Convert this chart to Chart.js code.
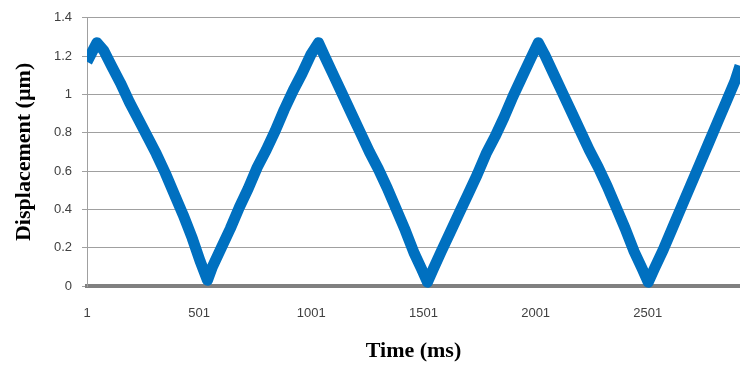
<!DOCTYPE html>
<html>
<head>
<meta charset="utf-8">
<script src="https://cdn.jsdelivr.net/npm/chart.js@4/dist/chart.umd.min.js"></script>
<style>
  html, body { margin: 0; padding: 0; background: #fff; }
  #wrap { width: 740px; height: 371px; }
</style>
</head>
<body>
<div id="wrap"><canvas id="dispChart" width="740" height="371"></canvas></div>
<script>
// sampled displacement trace (time in ms, displacement in µm)
const timeMs = [
  1, 45, 75, 110, 150, 190, 230, 270, 310, 350, 390, 430, 470, 505, 538,
  560, 600, 640, 680, 720, 760, 800, 840, 880, 920, 960, 1000, 1033,
  1060, 1100, 1140, 1180, 1220, 1260, 1300, 1340, 1380, 1420, 1460, 1492, 1519,
  1545, 1580, 1620, 1660, 1700, 1740, 1780, 1820, 1860, 1900, 1940, 1980, 2013,
  2040, 2080, 2120, 2160, 2200, 2240, 2280, 2320, 2360, 2400, 2440, 2476, 2503,
  2530, 2570, 2610, 2650, 2690, 2730, 2770, 2810, 2850, 2890, 2912
];
const displacement = [
  1.17, 1.27, 1.23, 1.15, 1.06, 0.96, 0.87, 0.78, 0.69, 0.59, 0.48, 0.37, 0.25, 0.13, 0.03,
  0.10, 0.20, 0.30, 0.41, 0.51, 0.62, 0.71, 0.81, 0.92, 1.02, 1.11, 1.21, 1.27,
  1.20, 1.10, 1.00, 0.90, 0.80, 0.70, 0.61, 0.51, 0.40, 0.29, 0.17, 0.09, 0.02,
  0.09, 0.18, 0.28, 0.38, 0.48, 0.58, 0.69, 0.78, 0.88, 0.99, 1.09, 1.19, 1.27,
  1.21, 1.11, 1.01, 0.91, 0.81, 0.71, 0.62, 0.52, 0.41, 0.30, 0.18, 0.09, 0.02,
  0.09, 0.19, 0.30, 0.41, 0.52, 0.63, 0.74, 0.85, 0.96, 1.07, 1.15
];
const xTickValues = [1, 501, 1001, 1501, 2001, 2501];
const xRange = [1, 2912];
const yRange = [0, 1.4];

const points = timeMs.map((t, i) => ({ x: t, y: displacement[i] }));

const tickFont = { family: "'Liberation Sans', Arial, sans-serif", size: 13 };
const titleFont = { family: "'Liberation Serif', 'Times New Roman', serif", size: 22, weight: 'bold' };

const ctx = document.getElementById('dispChart').getContext('2d');
new Chart(ctx, {
  type: 'line',
  data: {
    datasets: [{
      data: points,
      borderColor: '#0070c0',
      borderWidth: 11,
      borderJoinStyle: 'round',
      borderCapStyle: 'butt',
      pointRadius: 0,
      tension: 0,
      clip: { left: 0, right: 0, top: 8, bottom: 8 }
    }]
  },
  options: {
    responsive: false,
    animation: false,
    layout: { padding: { top: 15, right: 0, bottom: 0, left: 0 } },
    plugins: { legend: { display: false }, tooltip: { enabled: false } },
    scales: {
      x: {
        type: 'linear',
        min: xRange[0],
        max: xRange[1],
        afterBuildTicks: (scale) => { scale.ticks = xTickValues.map(v => ({ value: v })); },
        afterFit: (scale) => { scale.height = 85; },
        grid: { display: false },
        border: { display: true, color: '#808080', width: 4 },
        ticks: {
          autoSkip: false,
          maxRotation: 0,
          padding: 12,
          color: '#404040',
          font: tickFont,
          callback: (v) => String(v)
        },
        title: {
          display: true,
          text: 'Time (ms)',
          color: '#000',
          font: titleFont,
          padding: { top: 0, bottom: 6 }
        }
      },
      y: {
        min: yRange[0],
        max: yRange[1],
        afterFit: (scale) => { scale.width = 87; },
        grid: { color: '#a0a0a0', lineWidth: 1, tickLength: 5, drawTicks: true },
        border: { display: true, color: '#a0a0a0', width: 1 },
        ticks: {
          stepSize: 0.2,
          padding: 10,
          color: '#404040',
          font: tickFont,
          callback: (v) => String(Number(v.toFixed(1)))
        },
        title: {
          display: true,
          text: 'Displacement (µm)',
          color: '#000',
          font: titleFont,
          padding: { top: 11, bottom: 0 }
        }
      }
    }
  }
});
</script>
</body>
</html>
